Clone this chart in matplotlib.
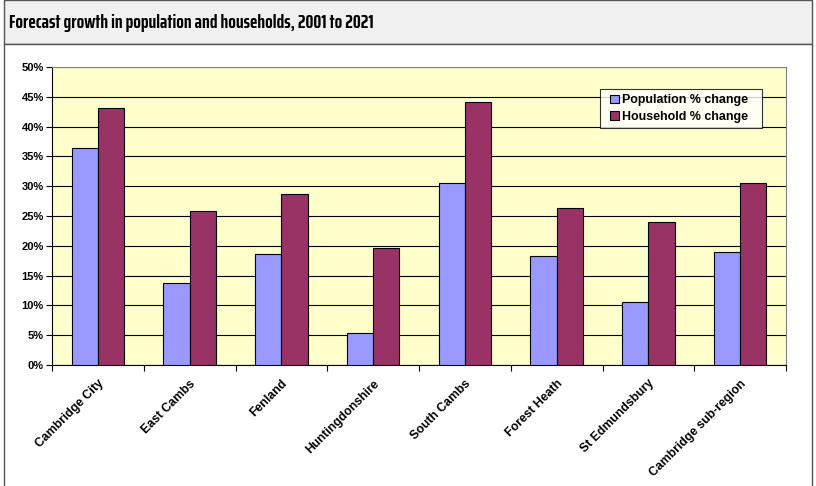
import matplotlib
matplotlib.use("Agg")
import matplotlib.pyplot as plt
import numpy as np
from matplotlib.patches import Rectangle
from matplotlib.container import BarContainer
from matplotlib.legend_handler import HandlerPatch, update_from_first_child
from matplotlib.ticker import MultipleLocator, FuncFormatter
from matplotlib import font_manager

categories = ["Cambridge City", "East Cambs", "Fenland", "Huntingdonshire",
              "South Cambs", "Forest Heath", "St Edmundsbury", "Cambridge sub-region"]
population = [36.4, 13.8, 18.6, 5.4, 30.5, 18.3, 10.6, 19.0]
households = [43.1, 25.8, 28.7, 19.6, 44.1, 26.3, 24.0, 30.5]
series_names = ["Population % change", "Household % change"]
title = "Forecast growth in population and households, 2001 to 2021"

plt.rcParams['font.family'] = ['Liberation Sans', 'DejaVu Sans']

fig = plt.figure(figsize=(8.16, 4.86), dpi=100)
renderer = fig.canvas.get_renderer()

# choose a bold condensed sans family for the title, closest to the target width
def _w(f):
    wt = f.weight
    if isinstance(wt, str):
        return 700 if 'bold' in wt.lower() else 400
    return wt
cands = [f for f in font_manager.fontManager.ttflist
         if ('Narrow' in f.name or 'Condensed' in f.name or 'condensed' in str(f.stretch))
         and 'Mono' not in f.name and 'Serif' not in f.name
         and 700 <= _w(f) <= 800 and f.style == 'normal']
target_w = 362.0
best = None
for f in cands:
    fp = font_manager.FontProperties(fname=f.fname, size=15)
    t = fig.text(0, 0, title, fontproperties=fp)
    wpx = t.get_window_extent(renderer).width
    t.remove()
    score = abs(wpx - target_w)
    if best is None or score < best[2]:
        best = (f.fname, wpx, score)
if best is not None:
    size = min(15.0, 15.0 * target_w / best[1])
    title_font = font_manager.FontProperties(fname=best[0], size=size)
else:
    title_font = font_manager.FontProperties(family=['Liberation Sans', 'DejaVu Sans'],
                                             weight='bold', size=11)

fig.patches.append(Rectangle((4/816, 1-44/486), 808/816, 44/486, transform=fig.transFigure,
                             facecolor="#F0F0F0", edgecolor="#555555", linewidth=1.0, zorder=-2))
fig.patches.append(Rectangle((4/816, -0.01), 808/816, 1-44/486 + 0.01, transform=fig.transFigure,
                             facecolor="white", edgecolor="#555555", linewidth=1.0, zorder=-2))
fig.text(9/816, 1-28/486, title, fontproperties=title_font, ha='left', va='baseline')

ax = fig.add_axes([52/816, 1-365/486, 734/816, 298/486])
ax.set_zorder(2)
ax.set_facecolor("#FFFFCC")
x = np.arange(len(categories))
w = 0.285
ax.bar(x - w/2, population, w, color="#9999FF", edgecolor="black", linewidth=0.8,
       label=series_names[0], zorder=3)
ax.bar(x + w/2, households, w, color="#993366", edgecolor="black", linewidth=0.8,
       label=series_names[1], zorder=3)

ax.set_xlim(-0.5, len(categories) - 0.5)
ax.set_ylim(0, 50)
ax.yaxis.set_major_locator(MultipleLocator(5))
ax.yaxis.set_major_formatter(FuncFormatter(lambda v, p: f"{v:.0f}%"))
ax.grid(axis='y', color='black', linewidth=0.8, zorder=1)
ax.set_axisbelow(True)

ax.set_xticks(np.arange(len(categories) + 1) - 0.5)
ax.set_xticklabels([])
ax.set_xticks(x, minor=True)
ax.set_xticklabels(categories, minor=True, rotation=45, ha='right', rotation_mode='anchor',
                   fontsize=8.8, fontweight='bold')
ax.tick_params(axis='x', which='minor', length=0, pad=9)
ax.tick_params(axis='x', which='major', length=4, direction='out', width=0.8)
ax.tick_params(axis='y', length=4, direction='out', width=0.8, labelsize=8, pad=2)
for lab in ax.get_yticklabels():
    lab.set_fontweight('bold')
for s in ['left', 'bottom']:
    ax.spines[s].set_color('black')
    ax.spines[s].set_linewidth(0.8)
for s in ['top', 'right']:
    ax.spines[s].set_color('#808080')
    ax.spines[s].set_linewidth(0.8)

def square_handle(legend, orig_handle, xdescent, ydescent, width, height, fontsize):
    s = height
    return Rectangle((width - s - xdescent, -ydescent), s, s)

fs = 8.9
leg = ax.legend(loc='upper left',
                bbox_to_anchor=((600-52)/734, (365-128)/298, 162/734, 39/298),
                mode='expand', frameon=True, fancybox=False, shadow=False,
                prop={'weight': 'bold', 'size': fs}, handlelength=1.1, handleheight=0.7,
                handletextpad=0.3, borderpad=0.42, labelspacing=0.4, borderaxespad=0,
                handler_map={BarContainer: HandlerPatch(patch_func=square_handle,
                                                        update_func=update_from_first_child)})
leg.get_frame().set_edgecolor('black')
leg.get_frame().set_linewidth(0.8)
leg.get_frame().set_facecolor('white')

fig.savefig("out.png", dpi=100)
